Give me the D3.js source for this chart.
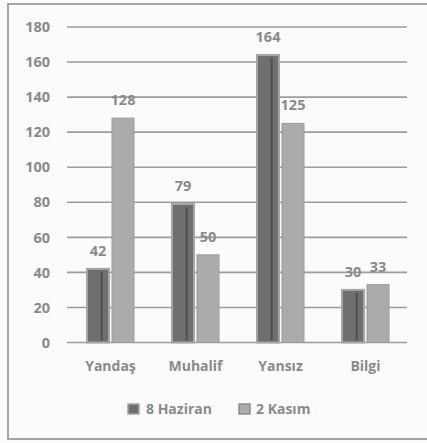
<!DOCTYPE html>
<html>
<head>
<meta charset="utf-8">
<script src="https://cdn.jsdelivr.net/npm/d3@7"></script>
<style>
  html, body { margin: 0; padding: 0; background: #fff; }
  svg text { font-family: "Open Sans", Lato, sans-serif; font-weight: 700; fill: #8a8a8a; }
</style>
</head>
<body>
<div id="chart"></div>
<script>
/* grouped bars, two dates per category */
const categories = ["Yandaş", "Muhalif", "Yansız", "Bilgi"];
const seriesNames = ["8 Haziran", "2 Kasım"];
const haziran = [42, 79, 164, 30];
const kasim = [128, 50, 125, 33];
const yTicks = [0, 20, 40, 60, 80, 100, 120, 140, 160, 180];

const W = 427, Ht = 443;
const m = { t: 27, r: 20, b: 100.5, l: 67 };
const svg = d3.select("#chart").append("svg").attr("width", W).attr("height", Ht);

svg.append("rect").attr("width", W).attr("height", Ht).attr("fill", "#fbfbfb");
svg.append("path").attr("d", `M${W},4 H8 V439 H${W}`)
  .attr("fill", "none").attr("stroke", "#a3a3a3").attr("stroke-width", 2);

const x = d3.scaleBand().domain(categories).range([m.l, W - m.r]);
const xs = d3.scaleBand().domain(seriesNames).range([20, 67]).paddingInner(0.12);
const y = d3.scaleLinear().domain([0, 180]).range([Ht - m.b, m.t]);

// grid + y labels
svg.append("g").selectAll("line").data(yTicks).join("line")
  .attr("x1", m.l).attr("x2", W - m.r)
  .attr("y1", d => y(d)).attr("y2", d => y(d))
  .attr("stroke", "#9c9c9c").attr("stroke-width", 1.6);
svg.append("g").selectAll("text").data(yTicks).join("text")
  .attr("x", 50).attr("y", d => y(d)).attr("dy", "0.36em")
  .attr("text-anchor", "end").style("font-size", "14.5px")
  .text(d => d);

const rows = categories.map((c, i) => [
  { cat: c, s: seriesNames[0], v: haziran[i] },
  { cat: c, s: seriesNames[1], v: kasim[i] }
]).flat();

const g = svg.append("g");
rows.forEach(r => {
  const bx = x(r.cat) + xs(r.s), bw = xs.bandwidth();
  if (r.s === seriesNames[0]) {
    g.append("rect").attr("x", bx).attr("y", y(r.v)).attr("width", bw).attr("height", y(0) - y(r.v))
      .attr("fill", "#6f6f6f").attr("stroke", "#a5a5a5").attr("stroke-width", 2);
    g.append("rect").attr("x", bx + bw * 0.62).attr("y", y(r.v) + 3).attr("width", 2)
      .attr("height", Math.max(0, y(0) - y(r.v) - 5)).attr("fill", "#4e4e4e");
  } else {
    g.append("rect").attr("x", bx).attr("y", y(r.v)).attr("width", bw).attr("height", y(0) - y(r.v))
      .attr("fill", "#ababab").attr("stroke", "#9a9a9a").attr("stroke-width", 1);
  }
  g.append("text").attr("x", bx + bw / 2).attr("y", y(r.v) - 13)
    .attr("text-anchor", "middle").style("font-size", "14.5px").text(r.v);
});

// category labels
svg.append("g").selectAll("text").data(categories).join("text")
  .attr("x", d => x(d) + 43.5).attr("y", 371)
  .attr("text-anchor", "middle").style("font-size", "14px").text(d => d);

// legend
const leg = [
  { name: seriesNames[0], mx: 128, tx: 146, fill: "#6f6f6f", stroke: "#a5a5a5" },
  { name: seriesNames[1], mx: 239, tx: 256, fill: "#ababab", stroke: "#8e8e8e" }
];
leg.forEach(l => {
  svg.append("rect").attr("x", l.mx).attr("y", 404).attr("width", 11).attr("height", 10)
    .attr("fill", l.fill).attr("stroke", l.stroke).attr("stroke-width", 1.5);
  svg.append("text").attr("x", l.tx).attr("y", 414).style("font-size", "14px").text(l.name);
});
</script>
</body>
</html>
